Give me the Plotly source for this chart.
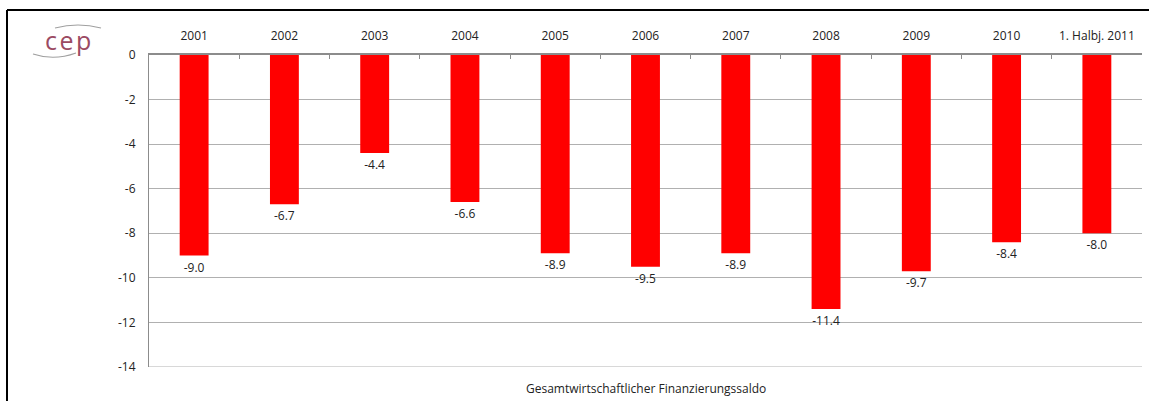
import plotly.graph_objects as go

categories = ["2001", "2002", "2003", "2004", "2005", "2006", "2007", "2008", "2009", "2010", "1. Halbj. 2011"]
values = [-9.0, -6.7, -4.4, -6.6, -8.9, -9.5, -8.9, -11.4, -9.7, -8.4, -8.0]
labels = [f"{v:.1f}" for v in values]
y_ticks = [0, -2, -4, -6, -8, -10, -12, -14]
x_title = "Gesamtwirtschaftlicher Finanzierungssaldo"

W, H = 1149, 401
L, R, T, B = 149, 7, 55, 34
pw, ph = W - L - R, H - T - B

def px(x):
    return (x - L) / pw

def py(y):
    return 1 - (y - T) / ph

FONT = "Open Sans, Liberation Sans, sans-serif"

fig = go.Figure(go.Bar(
    x=categories, y=values, marker_color="#FF0000", marker_line_width=0,
    text=labels, textposition="outside", cliponaxis=False,
    textfont=dict(size=12, color="#222222", family=FONT), width=0.32,
))

shapes = [
    # outer frame
    dict(type="line", xref="paper", yref="paper", x0=px(7), x1=px(1149), y0=py(10), y1=py(10),
         line=dict(color="black", width=2)),
    dict(type="line", xref="paper", yref="paper", x0=px(7), x1=px(7), y0=py(10), y1=py(401),
         line=dict(color="black", width=2)),
    # bottom gridline
    dict(type="line", xref="paper", yref="y", x0=0, x1=1, y0=y_ticks[-1], y1=y_ticks[-1],
         line=dict(color="#b0b0b0", width=1)),
    # logo arcs
    dict(type="path", xref="paper", yref="paper",
         path=f"M {px(55)},{py(28)} Q {px(78)},{py(22)} {px(101)},{py(28)}",
         line=dict(color="#a0a0a0", width=1.2)),
    dict(type="path", xref="paper", yref="paper",
         path=f"M {px(33)},{py(54)} Q {px(54)},{py(61)} {px(76)},{py(53)}",
         line=dict(color="#a0a0a0", width=1.2)),
]

annotations = [
    dict(text="c\u200ae\u200ap", xref="paper", yref="paper", x=px(68), y=py(40), showarrow=False,
         font=dict(size=25, color="#9b4a62", family="Open Sans, sans-serif"), xanchor="center", yanchor="middle"),
    dict(text=x_title, xref="paper", yref="paper", x=0.5, y=py(388), showarrow=False,
         font=dict(size=12, color="#222222", family=FONT), xanchor="center", yanchor="middle"),
]

fig.update_layout(
    width=W, height=H, margin=dict(l=L, r=R, t=T, b=B, autoexpand=False),
    paper_bgcolor="white", plot_bgcolor="white", showlegend=False,
    shapes=shapes, annotations=annotations,
    xaxis=dict(side="top", showline=True, linecolor="#8c8c8c", linewidth=1.5, automargin=False,
               ticks="inside", tickson="boundaries", ticklen=4, tickcolor="#8c8c8c",
               ticklabelstandoff=8,
               tickfont=dict(size=12, color="#222222", family=FONT), showgrid=False),
    yaxis=dict(range=[-14, 0], tickvals=y_ticks, ticktext=[str(v) for v in y_ticks],
               showgrid=True, gridcolor="#b0b0b0", gridwidth=1, zeroline=False, automargin=False,
               showline=True, linecolor="#8c8c8c", linewidth=1, ticks="", ticklen=0,
               ticklabelstandoff=10,
               tickfont=dict(size=12, color="#222222", family=FONT)),
)

fig.write_html("out.html", config={"displayModeBar": False},
               post_script="document.body.style.margin='0';document.body.style.overflow='hidden';")
